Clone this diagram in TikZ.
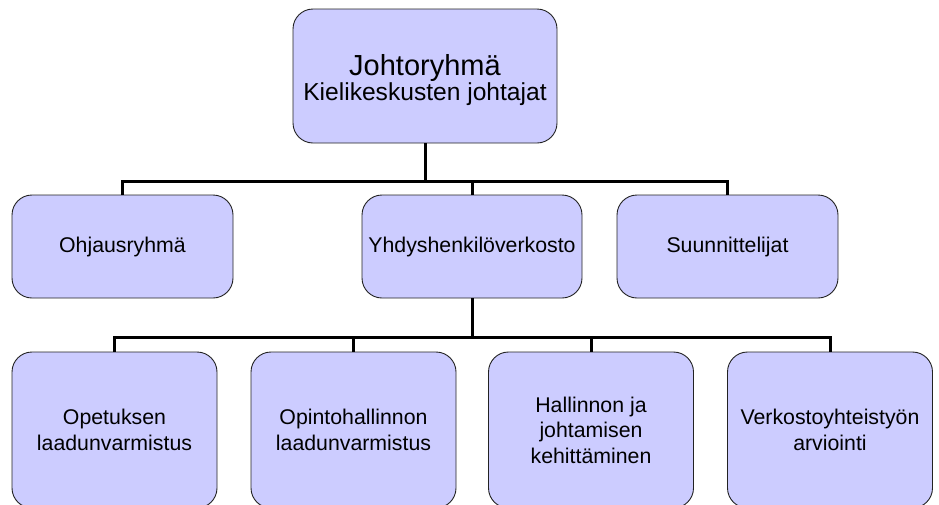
\documentclass[tikz,border=0pt]{standalone}
\usepackage{fontspec}
\setmainfont{Liberation Sans}
\definecolor{boxfill}{HTML}{CCCCFF}
\definecolor{boxline}{HTML}{222222}
\tikzset{
  orgbox/.style={draw=boxline, line width=0.9pt, fill=boxfill, rounded corners=20pt,
    align=center, inner sep=0pt, font=\fontsize{21.3}{25.5}\selectfont},
  conn/.style={draw=black, line width=3pt}
}
\begin{document}
\begin{tikzpicture}[x=1pt, y=-1pt]
\useasboundingbox (0,0) rectangle (939,504);
% top
\node[orgbox, minimum width=264pt, minimum height=134pt] (top) at (425,76)
  {\rule{0pt}{29pt}\fontsize{29}{30}\selectfont Johtoryhmä\\[-1pt]\fontsize{24.6}{30}\selectfont Kielikeskusten johtajat};
% middle row
\node[orgbox, minimum width=221pt, minimum height=103pt] (ohj) at (122.5,246.5) {Ohjausryhmä};
\node[orgbox, minimum width=220pt, minimum height=103pt] (yhd) at (472,246.5) {Yhdyshenkilöverkosto};
\node[orgbox, minimum width=221pt, minimum height=103pt] (suu) at (727.5,246.5) {Suunnittelijat};
% bottom row
\node[orgbox, minimum width=205pt, minimum height=156pt] (b1) at (114.5,430) {Opetuksen\\laadunvarmistus};
\node[orgbox, minimum width=205pt, minimum height=156pt] (b2) at (353.5,430) {Opintohallinnon\\laadunvarmistus};
\node[orgbox, minimum width=205pt, minimum height=156pt] (b3) at (591,430) {Hallinnon ja\\johtamisen\\kehittäminen};
\node[orgbox, minimum width=205pt, minimum height=156pt] (b4) at (830,430) {Verkostoyhteistyön\\arviointi};
% connectors
\coordinate (bar1) at (425,181);
\coordinate (bar2) at (472,337);
\draw[conn] (top.south) -- (bar1);
\draw[conn] (ohj.north) |- (bar1);
\draw[conn] (yhd.north) |- (bar1);
\draw[conn] (suu.north) |- (bar1);
\draw[conn] (yhd.south) -- (bar2);
\draw[conn] (b1.north) |- (bar2);
\draw[conn] (b2.north) |- (bar2);
\draw[conn] (b3.north) |- (bar2);
\draw[conn] (b4.north) |- (bar2);
\end{tikzpicture}
\end{document}
